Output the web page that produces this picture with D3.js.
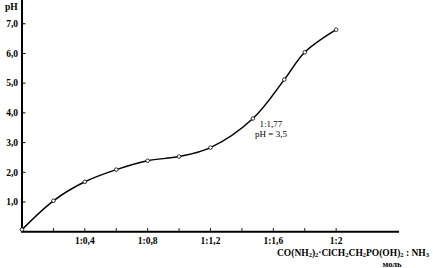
<!DOCTYPE html>
<html><head><meta charset="utf-8">
<script src="https://cdn.jsdelivr.net/npm/d3@7"></script>
<style>body{margin:0;background:#fff}svg{display:block}</style>
</head><body>
<svg id="c" width="433" height="268"></svg>
<script>
const ratioX = [0, 0.2, 0.4, 0.6, 0.8, 1.0, 1.2, 1.47, 1.67, 1.8, 2.0];
const pHValues = [0.07, 1.04, 1.68, 2.09, 2.39, 2.53, 2.83, 3.81, 5.12, 6.04, 6.8];
const yTicks = [1, 2, 3, 4, 5, 6, 7];
const xMinorTicks = [0.2, 0.4, 0.6, 0.8, 1.0, 1.2, 1.4, 1.6, 1.8, 2.0];
const xLabelTicks = [0.4, 0.8, 1.2, 1.6, 2.0];
const xLabels = ["1:0,4", "1:0,8", "1:1,2", "1:1,6", "1:2"];
const yLabels = ["1,0", "2,0", "3,0", "4,0", "5,0", "6,0", "7,0"];
const annotation = ["1:1,77", "pH = 3,5"];

const svg = d3.select("#c");
const font = "'Liberation Serif','Times New Roman',serif";
const x = d3.scaleLinear().domain([0, 2.4]).range([22, 399]);
const y = d3.scaleLinear().domain([0, 7.8]).range([231.7, 0]);

// axes lines
svg.append("line").attr("x1", x(0)).attr("x2", x(0)).attr("y1", 0).attr("y2", y(0))
  .attr("stroke", "#000").attr("stroke-width", 2);
svg.append("line").attr("x1", x(0) - 1).attr("x2", x(2.4)).attr("y1", y(0)).attr("y2", y(0))
  .attr("stroke", "#000").attr("stroke-width", 2);

// y ticks
svg.selectAll(".yt").data(yTicks).enter().append("line")
  .attr("x1", x(0) + 1).attr("x2", x(0) + 3.5)
  .attr("y1", d => y(d)).attr("y2", d => y(d))
  .attr("stroke", "#000").attr("stroke-width", 1);
svg.selectAll(".yl").data(yTicks).enter().append("text")
  .attr("x", 18).attr("y", d => y(d)).attr("dy", "0.35em")
  .attr("text-anchor", "end").attr("font-family", font).attr("font-weight", "bold")
  .attr("font-size", 9.5).text((d, i) => yLabels[i]);

// x ticks
svg.selectAll(".xt").data(xMinorTicks).enter().append("line")
  .attr("x1", d => x(d)).attr("x2", d => x(d))
  .attr("y1", y(0) - 1).attr("y2", y(0) - 3.5)
  .attr("stroke", "#000").attr("stroke-width", 1);
svg.selectAll(".xl").data(xLabelTicks).enter().append("text")
  .attr("x", d => x(d)).attr("y", 244)
  .attr("text-anchor", "middle").attr("font-family", font).attr("font-weight", "bold")
  .attr("font-size", 9.5).text((d, i) => xLabels[i]);

// axis titles
svg.append("text").attr("x", 5).attr("y", 10).attr("font-family", font)
  .attr("font-weight", "bold").attr("font-size", 9.5).text("pH");

const f = svg.append("text").attr("x", 429).attr("y", 255.5).attr("text-anchor", "end")
  .attr("font-family", font).attr("font-weight", "bold").attr("font-size", 9.5);
const parts = [["CO(NH",0],["2",1],[")",0],["2",1],"·ClCH",["2",1],"CH",["2",1],"PO(OH)",["2",1]," : NH",["3",1]];
parts.forEach(p => {
  const t = Array.isArray(p) ? p : [p, 0];
  f.append("tspan").attr("font-size", t[1] ? 6.5 : 9.5)
    .attr("baseline-shift", t[1] ? "-10%" : null).text(t[0]);
});
svg.append("text").attr("x", 392).attr("y", 266.5).attr("text-anchor", "middle")
  .attr("font-family", font).attr("font-weight", "bold").attr("font-size", 8.5).text("моль");

// annotation
svg.selectAll(".an").data(annotation).enter().append("text")
  .attr("x", 271).attr("y", (d, i) => 126.5 + i * 10.5).attr("text-anchor", "middle")
  .attr("font-family", font).attr("font-size", 9).text(d => d);

// curve
const pts = ratioX.map((v, i) => [v, pHValues[i]]);
const line = d3.line().x(d => x(d[0])).y(d => y(d[1])).curve(d3.curveCatmullRom.alpha(0.5));
svg.append("path").datum(pts).attr("d", line).attr("fill", "none")
  .attr("stroke", "#000").attr("stroke-width", 1.5);
svg.selectAll(".pt").data(pts).enter().append("circle")
  .attr("cx", d => x(d[0])).attr("cy", d => y(d[1])).attr("r", 1.8)
  .attr("fill", "#fff").attr("stroke", "#000").attr("stroke-width", 0.8);
</script>
</body></html>
